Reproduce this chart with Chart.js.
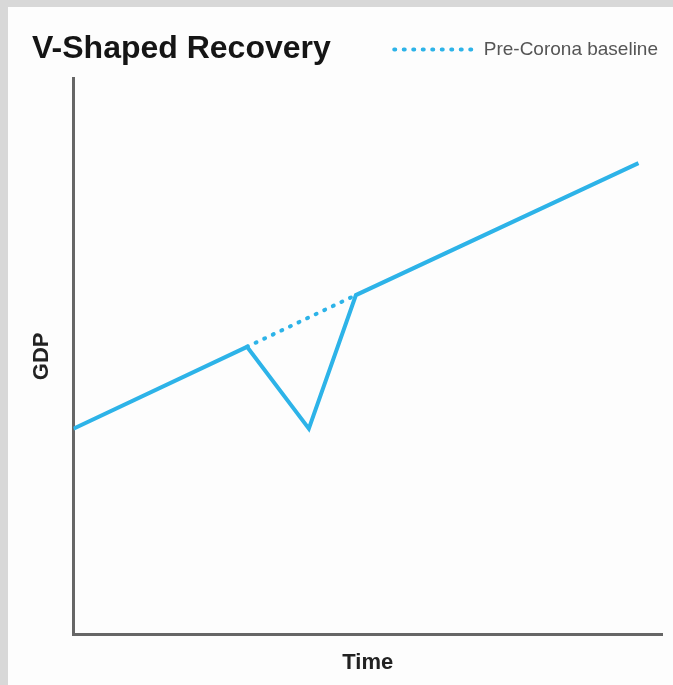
<!DOCTYPE html>
<html lang="en">
<head>
    <meta charset="UTF-8">
    <title>V-Shaped Recovery</title>
    <style>
        body{
            margin: 0;
            background: #d8d8d8;
            overflow: hidden;
            height: 100vh;
        }
        #wrap{
            position: absolute;
            left: 8px;
            top: 7px;
            width: 665px;
            height: 678px;
            background: #fdfdfd;
        }
    </style>
</head>
<body>
<div id="wrap"><canvas id="chart"></canvas></div>
<script src="https://cdn.jsdelivr.net/npm/chart.js"></script>
<script>
    const chartTitle = 'V-Shaped Recovery';
    // time and GDP in arbitrary units (the original has no ticks)
    const time = [0, 29.5, 40, 48, 96];
    const gdp = [37, 51.7, 37, 61, 84.7];
    const baselineTime = [29.5, 48];
    const baselineGdp = [51.7, 61];

    const blue = '#2db3e8';
    const dots = [1, 8.5];

    const titlePlugin = {
        id: 'leftTitle',
        beforeInit(chart){
            // leave a gap between the legend row and the plot
            const fit = chart.legend.fit;
            chart.legend.fit = function(){
                fit.call(this);
                this.height += 9;
            };
        },
        afterDraw(chart){
            const ctx = chart.ctx;
            ctx.save();
            ctx.fillStyle = '#151515';
            ctx.font = 'bold 32px "Liberation Sans", Arial, sans-serif';
            ctx.textBaseline = 'alphabetic';
            ctx.fillText(chartTitle, 24, 51);
            ctx.restore();
        }
    };

    new Chart(document.getElementById('chart'), {
        type: 'line',
        data: {
            datasets: [{
                label: 'GDP',
                data: time.map((t, i) => ({x: t, y: gdp[i]})),
                borderColor: blue,
                borderWidth: 4,
                pointRadius: 0,
                tension: 0,
                borderJoinStyle: 'miter'
            }, {
                label: 'Pre-Corona baseline',
                data: baselineTime.map((t, i) => ({x: t, y: baselineGdp[i]})),
                borderColor: blue,
                borderWidth: 4,
                borderDash: dots,
                borderCapStyle: 'round',
                pointRadius: 0
            }]
        },
        options: {
            responsive: true,
            maintainAspectRatio: false,
            animation: false,
            layout: {padding: {top: 29, right: 11, left: 0, bottom: 0}},
            plugins: {
                legend: {
                    position: 'top',
                    align: 'end',
                    labels: {
                        filter: (item) => item.text === 'Pre-Corona baseline',
                        generateLabels: (chart) => Chart.defaults.plugins.legend.labels.generateLabels(chart)
                            .map((l) => ({...l, lineDash: dots, lineCap: 'round', strokeStyle: blue, lineWidth: 4})),
                        usePointStyle: true,
                        pointStyle: 'line',
                        pointStyleWidth: 80,
                        color: '#555',
                        font: {family: '"Liberation Sans", Arial, sans-serif', size: 19},
                        padding: 4
                    }
                },
                tooltip: {enabled: false}
            },
            scales: {
                x: {
                    type: 'linear',
                    min: 0,
                    max: 100,
                    ticks: {display: false},
                    grid: {display: false, drawTicks: false},
                    border: {display: true, color: '#666', width: 3},
                    title: {
                        display: true,
                        text: 'Time',
                        color: '#222',
                        font: {family: '"Liberation Sans", Arial, sans-serif', size: 22, weight: 'bold'},
                        padding: {top: 15, bottom: 9}
                    }
                },
                y: {
                    min: 0,
                    max: 100,
                    ticks: {display: false},
                    grid: {display: false, drawTicks: false},
                    border: {display: true, color: '#666', width: 3},
                    title: {
                        display: true,
                        text: 'GDP',
                        color: '#222',
                        font: {family: '"Liberation Sans", Arial, sans-serif', size: 22, weight: 'bold'},
                        padding: {top: 21, bottom: 18}
                    }
                }
            }
        },
        plugins: [titlePlugin]
    });
</script>
</body>
</html>
